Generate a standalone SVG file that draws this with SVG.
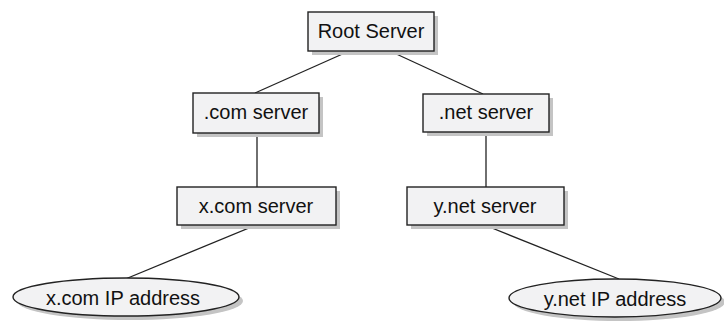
<svg xmlns="http://www.w3.org/2000/svg" width="724" height="328" viewBox="0 0 724 328">
<style>
.box{fill:#f2f2f3;stroke:#222;stroke-width:1.4}
.shadow{fill:#c4c4c4}
.edge{stroke:#222;stroke-width:1.3;fill:none}
text{font-family:"Liberation Sans",Arial,sans-serif;font-size:20px;fill:#111;text-anchor:middle}
</style>
<rect width="724" height="328" fill="#fff"/>
<g id="connectors">
<line class="edge" x1="347" y1="52" x2="255" y2="93"/>
<line class="edge" x1="392" y1="52" x2="483" y2="94"/>
<line class="edge" x1="257" y1="133" x2="257" y2="187"/>
<line class="edge" x1="486" y1="132" x2="486" y2="187"/>
<line class="edge" x1="256" y1="225" x2="123" y2="280"/>
<line class="edge" x1="487" y1="226" x2="619" y2="279"/>
</g>
<g id="root">
<rect class="shadow" x="312" y="16" width="126" height="39"/>
<rect class="box" x="308" y="12" width="126" height="39"/>
<text x="371" y="38">Root Server</text>
</g>
<g id="com">
<rect class="shadow" x="197" y="97" width="126" height="40"/>
<rect class="box" x="193" y="93" width="126" height="40"/>
<text x="256" y="119">.com server</text>
</g>
<g id="net">
<rect class="shadow" x="427" y="98" width="126" height="38"/>
<rect class="box" x="423" y="94" width="126" height="38"/>
<text x="486" y="119">.net server</text>
</g>
<g id="xcom">
<rect class="shadow" x="181" y="191" width="159" height="38"/>
<rect class="box" x="177" y="187" width="159" height="38"/>
<text x="256" y="213">x.com server</text>
</g>
<g id="ynet">
<rect class="shadow" x="411" y="191" width="157" height="38"/>
<rect class="box" x="407" y="187" width="157" height="38"/>
<text x="485" y="213">y.net server</text>
</g>
<g id="xcomip">
<ellipse class="shadow" cx="130" cy="301" rx="113" ry="19"/>
<ellipse class="box" cx="126" cy="297" rx="113" ry="19"/>
<text x="123" y="305">x.com IP address</text>
</g>
<g id="ynetip">
<ellipse class="shadow" cx="619" cy="302" rx="106" ry="19"/>
<ellipse class="box" cx="615" cy="298" rx="106" ry="19"/>
<text x="615" y="306">y.net IP address</text>
</g>
</svg>
